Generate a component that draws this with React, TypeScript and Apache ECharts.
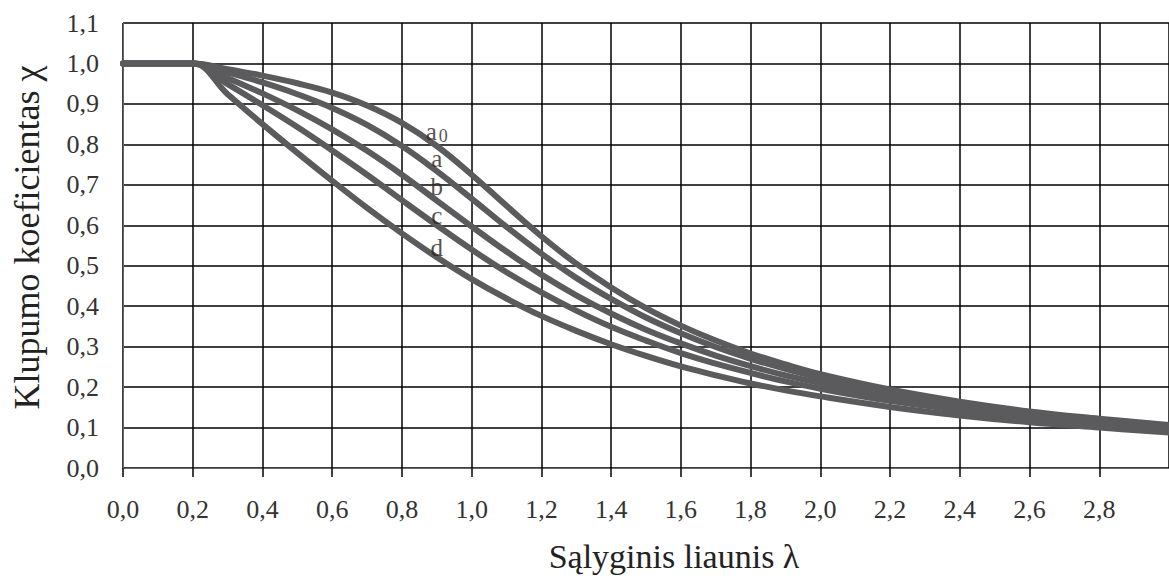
import React, { useEffect, useRef } from "react";
import * as echarts from "echarts";

const lambdas = [0, 0.1, 0.2, 0.3, 0.4, 0.5, 0.6, 0.7, 0.8, 0.9, 1.0, 1.1, 1.2, 1.3, 1.4, 1.5, 1.6, 1.7, 1.8, 1.9, 2.0, 2.2, 2.4, 2.6, 2.8, 3.0];
const chiA0 = [1, 1, 1, 0.986, 0.970, 0.951, 0.928, 0.896, 0.853, 0.796, 0.725, 0.648, 0.573, 0.505, 0.446, 0.395, 0.352, 0.315, 0.283, 0.256, 0.232, 0.194, 0.164, 0.140, 0.122, 0.106];
const chiA = [1, 1, 1, 0.978, 0.953, 0.924, 0.890, 0.848, 0.796, 0.734, 0.666, 0.596, 0.530, 0.470, 0.418, 0.372, 0.333, 0.299, 0.270, 0.245, 0.223, 0.187, 0.159, 0.136, 0.118, 0.104];
const chiB = [1, 1, 1, 0.964, 0.926, 0.884, 0.837, 0.784, 0.725, 0.661, 0.597, 0.535, 0.478, 0.427, 0.382, 0.342, 0.308, 0.278, 0.252, 0.229, 0.210, 0.177, 0.151, 0.130, 0.113, 0.099];
const chiC = [1, 1, 1, 0.949, 0.897, 0.843, 0.785, 0.725, 0.662, 0.600, 0.540, 0.484, 0.434, 0.389, 0.349, 0.315, 0.284, 0.258, 0.235, 0.214, 0.196, 0.166, 0.143, 0.123, 0.108, 0.095];
const chiD = [1, 1, 1, 0.924, 0.850, 0.779, 0.710, 0.643, 0.580, 0.521, 0.467, 0.419, 0.376, 0.339, 0.306, 0.277, 0.251, 0.229, 0.209, 0.192, 0.177, 0.151, 0.130, 0.113, 0.100, 0.088];

const curveNames = ["a0", "a", "b", "c", "d"];
const curveLabelX = [0.9, 0.9, 0.9, 0.9, 0.9];
const curveLabelY = [0.833, 0.764, 0.697, 0.623, 0.544];

const xTitle = "Sąlyginis liaunis λ";
const yTitle = "Klupumo koeficientas χ";

const FONT = "Liberation Serif";

export default function App() {
  const ref = useRef<HTMLDivElement>(null);
  useEffect(() => {
    if (!ref.current) return;
    const chart = echarts.init(ref.current, null, { renderer: "svg" });
    const all = [chiA0, chiA, chiB, chiC, chiD];
    const fmt = (v: number) => v.toFixed(1).replace(".", ",");
    const series: any[] = all.map((arr, i) => ({
      type: "line",
      name: curveNames[i],
      data: lambdas.map((l, j) => [l, arr[j]]),
      showSymbol: false,
      symbol: "none",
      smooth: 0.4,
      lineStyle: { color: "#5b5b5d", width: 6, cap: "round", join: "round" },
      z: 3,
    }));
    series.push({
      type: "scatter",
      symbolSize: 0,
      data: curveNames.map((n, i) => [curveLabelX[i], curveLabelY[i], n]),
      z: 5,
      label: {
        show: true,
        position: "inside",
        formatter: (p: any) => {
          const n = p.data[2] as string;
          return n.length > 1 ? `{m|${n[0]}}{s|${n.slice(1)}}` : `{m|${n}}`;
        },
        rich: {
          m: { fontFamily: FONT, fontSize: 25, color: "#2a2420" },
          s: { fontFamily: FONT, fontSize: 18, color: "#2a2420", padding: [10, 0, 0, 2] },
        },
      },
      silent: true,
    });
    chart.setOption({
      animation: false,
      backgroundColor: "#ffffff",
      grid: { left: 123, right: -4, top: 23, bottom: 111 },
      xAxis: {
        type: "value",
        min: 0,
        max: 3,
        interval: 0.2,
        name: xTitle,
        nameLocation: "middle",
        nameGap: 71,
        nameTextStyle: { fontFamily: FONT, fontSize: 34, color: "#222", padding: [0, 0, 0, 56] },
        axisLine: { show: true, lineStyle: { color: "#666", width: 1 } },
        axisTick: { show: true, length: 9, lineStyle: { color: "#000", width: 1.5 } },
        axisLabel: {
          formatter: fmt,
          fontFamily: FONT,
          fontSize: 26,
          color: "#333",
          margin: 28,
          showMaxLabel: false,
        },
        splitLine: { show: true, lineStyle: { color: "#000", width: 1.5 } },
      },
      yAxis: {
        type: "value",
        min: 0,
        max: 1.1,
        interval: 0.1,
        name: yTitle,
        nameLocation: "middle",
        nameGap: 78,
        nameTextStyle: { fontFamily: FONT, fontSize: 36, color: "#222", padding: [0, 0, 0, 16] },
        axisLine: { show: true, lineStyle: { color: "#666", width: 1 } },
        axisTick: { show: false },
        axisLabel: {
          formatter: fmt,
          fontFamily: FONT,
          fontSize: 26,
          color: "#333",
          margin: 24,
        },
        splitLine: { show: true, lineStyle: { color: "#000", width: 1.5 } },
      },
      series,
    });
    return () => chart.dispose();
  }, []);
  return (
    <div
      ref={ref}
      style={{ position: "fixed", left: 0, top: 0, width: 1169, height: 579, background: "#fff" }}
    />
  );
}
